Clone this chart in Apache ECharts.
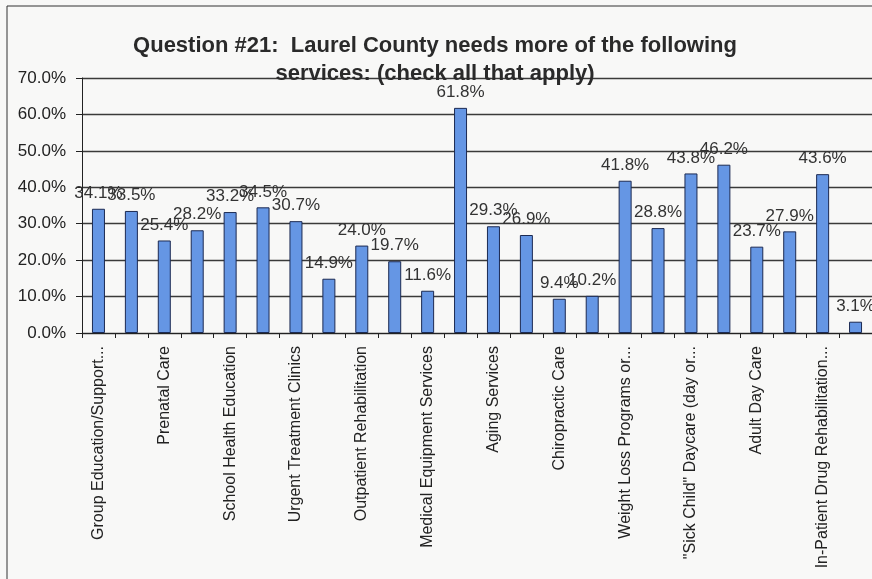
<!DOCTYPE html>
<html>
<head>
<meta charset="utf-8">
<script src="https://cdn.jsdelivr.net/npm/echarts@6/dist/echarts.min.js"></script>
<style>
html,body{margin:0;padding:0;background:#f8f8f7;}
#c{width:872px;height:579px;}
</style>
</head>
<body>
<div id="c"></div>
<script>
const titleText = 'Question #21:  Laurel County needs more of the following\nservices: (check all that apply)';
const categories = [
  'Group Education/Support...', '#2',
  'Prenatal Care', '#4',
  'School Health Education', '#6',
  'Urgent Treatment Clinics', '#8',
  'Outpatient Rehabilitation', '#10',
  'Medical Equipment Services', '#12',
  'Aging Services', '#14',
  'Chiropractic Care', '#16',
  'Weight Loss Programs or...', '#18',
  '"Sick Child" Daycare (day or...', '#20',
  'Adult Day Care', '#22',
  'In-Patient Drug Rehabilitation...', '#24'
];
const values = [34.1, 33.5, 25.4, 28.2, 33.2, 34.5, 30.7, 14.9, 24.0, 19.7, 11.6, 61.8,
                29.3, 26.9, 9.4, 10.2, 41.8, 28.8, 43.8, 46.2, 23.7, 27.9, 43.6, 3.1];
const yTicks = {min: 0, max: 70, interval: 10};

const chart = echarts.init(document.getElementById('c'), null, {renderer: 'canvas'});
chart.setOption({
  backgroundColor: '#f8f8f7',
  animation: false,
  title: {
    text: titleText,
    left: 430,
    top: 27,
    textAlign: 'center',
    textStyle: {fontFamily: 'Arial', fontSize: 22, fontWeight: 'bold', color: '#2a2a2a', lineHeight: 28, align: 'center'}
  },
  graphic: [{
    type: 'rect', silent: true,
    shape: {x: 7, y: 6, width: 900, height: 600},
    style: {fill: 'none', stroke: '#333', lineWidth: 1}
  }],
  grid: {left: 82, top: 78, width: 802, height: 255, containLabel: false},
  xAxis: {
    type: 'category',
    data: categories,
    axisLine: {lineStyle: {color: '#222', width: 1}},
    axisTick: {show: true, interval: 0, length: 5, lineStyle: {color: '#222'}},
    axisLabel: {
      interval: 1, rotate: 90, margin: 13,
      fontFamily: 'Arial', fontSize: 16, color: '#222'
    },
    splitLine: {show: false}
  },
  yAxis: {
    type: 'value',
    min: yTicks.min, max: yTicks.max, interval: yTicks.interval,
    axisLine: {show: true, lineStyle: {color: '#222', width: 1}},
    axisTick: {show: true, length: 6, lineStyle: {color: '#222'}},
    axisLabel: {
      margin: 16, fontFamily: 'Arial', fontSize: 17, color: '#222',
      formatter: v => v.toFixed(1) + '%'
    },
    splitLine: {show: true, lineStyle: {color: '#3a3a3a', width: 1.3}}
  },
  series: [{
    type: 'bar',
    data: values,
    barWidth: 13,
    itemStyle: {color: '#6596e4', borderColor: '#1c2a52', borderWidth: 1},
    label: {
      show: true, position: 'top', distance: 7,
      fontFamily: 'Arial', fontSize: 17, color: '#333',
      formatter: p => p.value.toFixed(1) + '%'
    }
  }]
});
</script>
</body>
</html>
